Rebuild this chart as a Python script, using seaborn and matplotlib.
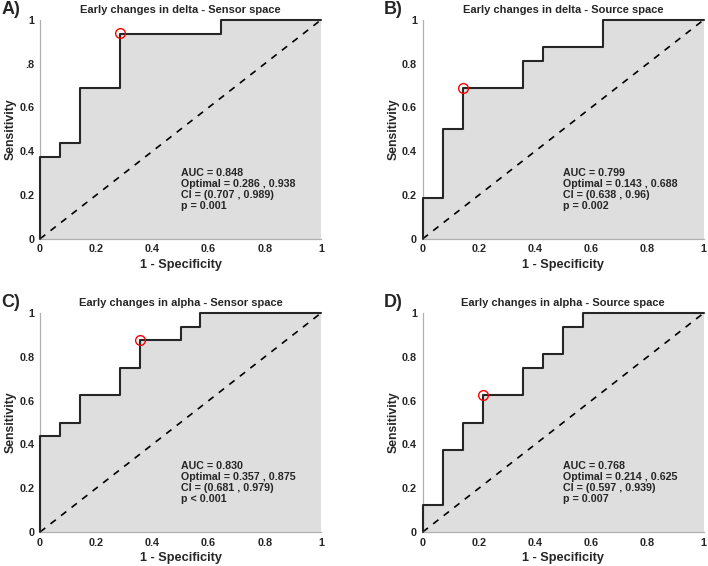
import numpy as np
import pandas as pd
import seaborn as sns
import matplotlib.pyplot as plt

# ROC step vertices (1 - specificity, sensitivity)
fpr_a = [0, 0, 0.071, 0.143, 0.286, 0.643, 1]
tpr_a = [0, 0.375, 0.4375, 0.6875, 0.9375, 1, 1]
fpr_b = [0, 0, 0.071, 0.143, 0.357, 0.429, 0.643, 1]
tpr_b = [0, 0.1875, 0.5, 0.6875, 0.8125, 0.875, 1, 1]
fpr_c = [0, 0, 0.071, 0.143, 0.286, 0.357, 0.5, 0.571, 1]
tpr_c = [0, 0.4375, 0.5, 0.625, 0.75, 0.875, 0.9375, 1, 1]
fpr_d = [0, 0, 0.071, 0.143, 0.214, 0.357, 0.429, 0.5, 0.571, 1]
tpr_d = [0, 0.125, 0.375, 0.5, 0.625, 0.75, 0.8125, 0.9375, 1, 1]

optimal = [(0.286, 0.938), (0.143, 0.688), (0.357, 0.875), (0.214, 0.625)]
titles = ["Early changes in delta - Sensor space", "Early changes in delta - Source space",
          "Early changes in alpha - Sensor space", "Early changes in alpha - Source space"]
letters = ["A)", "B)", "C)", "D)"]
stats = [["AUC = 0.848", "Optimal = 0.286 , 0.938", "CI = (0.707 , 0.989)", "p = 0.001"],
         ["AUC = 0.799", "Optimal = 0.143 , 0.688", "CI = (0.638 , 0.96)", "p = 0.002"],
         ["AUC = 0.830", "Optimal = 0.357 , 0.875", "CI = (0.681 , 0.979)", "p < 0.001"],
         ["AUC = 0.768", "Optimal = 0.214 , 0.625", "CI = (0.597 , 0.939)", "p = 0.007"]]
xticklabels = ["0", "0.2", "0.4", "0.6", "0.8", "1"]
yticklabels = [["0", "0.2", "0.4", "0.6", ".8", "1"]] + [["0", "0.2", "0.4", "0.6", "0.8", "1"]] * 3

curves = [(fpr_a, tpr_a), (fpr_b, tpr_b), (fpr_c, tpr_c), (fpr_d, tpr_d)]

sns.set_style("white")
plt.rcParams['font.family'] = ['Liberation Sans', 'DejaVu Sans']
plt.rcParams['font.weight'] = 'bold'

fig = plt.figure(figsize=(7.08, 5.66), dpi=100)
positions = [[0.0565, 0.578, 0.397, 0.387], [0.597, 0.578, 0.397, 0.387],
             [0.0565, 0.060, 0.397, 0.387], [0.597, 0.060, 0.397, 0.387]]

for i in range(4):
    ax = fig.add_axes(positions[i])
    fpr, tpr = curves[i]
    df = pd.DataFrame({"fpr": fpr, "tpr": tpr})
    ax.fill_between(df["fpr"], df["tpr"], step="post", color="#dedede", lw=0, zorder=1)
    sns.lineplot(data=df, x="fpr", y="tpr", ax=ax, sort=False, estimator=None,
                 drawstyle="steps-post", color="#262626", lw=1.5, clip_on=False, zorder=3)
    sns.lineplot(x=[0, 1], y=[0, 1], ax=ax, color="black", lw=1.2,
                 linestyle=(0, (4, 4)), zorder=2)
    ax.plot(*optimal[i], marker="o", ms=7, mfc="none", mec="red", mew=1.0, zorder=4, clip_on=False)

    ax.set_xlim(0, 1)
    ax.set_ylim(0, 1)
    ticks = np.linspace(0, 1, 6)
    ax.set_xticks(ticks)
    ax.set_yticks(ticks)
    ax.set_xticklabels(xticklabels, fontsize=7.8, fontweight="bold")
    ax.set_yticklabels(yticklabels[i], fontsize=7.8, fontweight="bold")
    ax.tick_params(direction="in", length=3, width=0.8, color="#9a9a9a", pad=4)
    for s in ["top", "right"]:
        ax.spines[s].set_visible(False)
    for s in ["left", "bottom"]:
        ax.spines[s].set_color("#b0b0b0")
        ax.spines[s].set_linewidth(0.9)
    ax.set_xlabel("1 - Specificity", fontsize=9.2, fontweight="bold", labelpad=3)
    ax.set_ylabel("Sensitivity", fontsize=8.8, fontweight="bold", labelpad=2)
    ax.set_title(titles[i], fontsize=8, fontweight="bold", pad=5)
    ax.text(0.5, 0.325, "\n".join(stats[i]), fontsize=7.7, fontweight="bold",
            va="top", ha="left", linespacing=1.12)
    fig.text(positions[i][0] - 0.055, positions[i][1] + positions[i][3] + 0.003, letters[i],
             fontsize=13, fontweight="bold", ha="left", va="bottom")

fig.savefig("out.png", dpi=100)
